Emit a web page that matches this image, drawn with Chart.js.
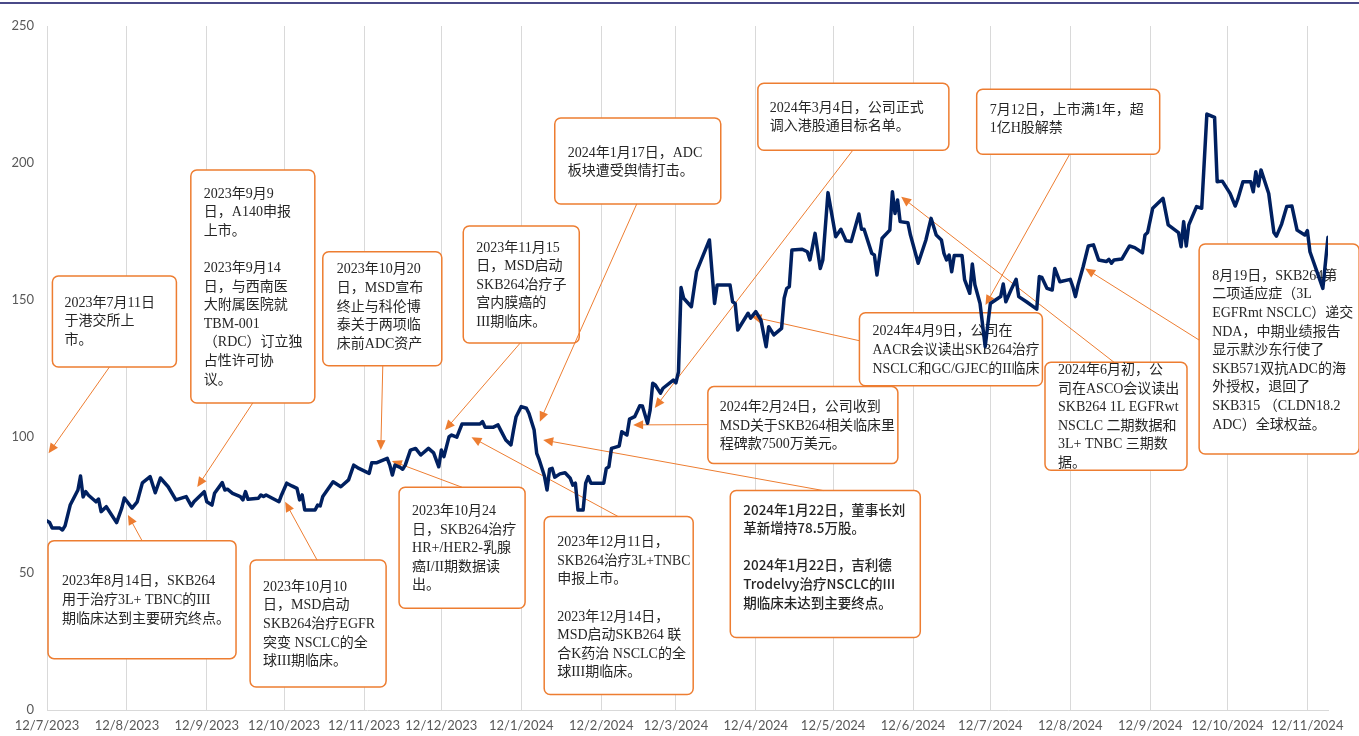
<!DOCTYPE html>
<html>
<head>
<meta charset="utf-8">
<script src="https://cdn.jsdelivr.net/npm/chart.js@4.4.1/dist/chart.umd.min.js"></script>
<style>
  html, body { margin: 0; padding: 0; background: #fff; }
  #wrap { width: 1359px; height: 736px; }
</style>
</head>
<body>
<div id="wrap"><canvas id="priceChart" width="1359" height="736"></canvas></div>
<script>
// trading days counted from 12/7/2023 (day/month/year)
const dayOffsets = [
  0, 1, 2, 5, 6, 7, 9, 12, 13, 14, 15, 16, 19, 20, 21, 23, 27, 29, 30, 33,
  35, 37, 40, 42, 44, 47, 50, 54, 56, 57, 61, 62, 64, 65, 68, 69, 70, 72, 75, 76,
  77, 78, 82, 83, 84, 85, 90, 91, 93, 95, 97, 98, 99, 100, 104, 105, 106, 107, 111, 114,
  117, 119, 121, 125, 126, 128, 132, 133, 134, 135, 137, 138, 139, 141, 143, 145, 148, 150, 152, 153,
  154, 156, 157, 159, 161, 163, 168, 169, 170, 173, 175, 176, 178, 180, 181, 182, 184, 186, 187, 189,
  190, 191, 193, 194, 195, 196, 197, 199, 201, 203, 204, 205, 206, 208, 209, 210, 211, 216, 217, 218,
  219, 221, 222, 223, 225, 226, 228, 230, 231, 233, 234, 235, 236, 238, 239, 243, 244, 245, 246, 247,
  250, 252, 257, 259, 260, 265, 266, 267, 268, 272, 273, 275, 277, 279, 280, 282, 285, 286, 287, 288,
  289, 293, 295, 296, 298, 300, 301, 303, 306, 308, 310, 312, 315, 316, 317, 320, 321, 322, 324, 327,
  328, 329, 330, 331, 334, 335, 338, 341, 343, 345, 347, 348, 349, 350, 351, 352, 355, 356, 358, 359,
  360, 362, 364, 366, 369, 370, 371, 372, 374, 376, 377, 380, 384, 385, 386, 388, 390, 391, 393, 397,
  398, 399, 400, 402, 404, 406, 408, 411, 412, 413, 414, 417, 420, 422, 425, 426, 427, 429, 431, 433,
  435, 439, 440, 441, 442, 443, 446, 448, 450, 453, 454, 456, 459, 461, 462, 464, 467, 468, 469, 470,
  471, 474, 476, 477, 479, 481, 483, 485, 488, 489, 490, 495, 497
];

const closePrices = [
  69.1, 68.5, 66.5, 66.5, 65.8, 67.3, 74.9, 80.4, 85.5, 77.9, 79.8, 78.6, 76.1, 77.1, 72.5, 74.3, 68.5, 73.8, 77.5, 73.8,
  76.1, 83.0, 85.3, 79.4, 84.8, 81.6, 76.8, 78.0, 74.6, 76.1, 79.8, 76.1, 74.9, 79.2, 83.1, 80.4, 80.7, 79.2, 78.0, 76.8,
  79.8, 77.0, 77.4, 78.6, 78.0, 78.6, 76.1, 78.6, 82.9, 81.9, 81.0, 76.8, 78.6, 73.1, 73.1, 74.9, 74.6, 78.0, 83.4, 81.6,
  84.1, 89.5, 88.3, 86.5, 90.4, 90.4, 92.0, 89.5, 85.9, 89.5, 88.7, 88.0, 89.5, 95.0, 95.6, 93.2, 95.6, 94.0, 88.9, 95.0,
  92.6, 99.9, 100.5, 99.7, 104.5, 104.5, 104.5, 105.4, 103.3, 103.3, 104.2, 102.3, 98.7, 96.9, 102.3, 107.2, 110.9, 110.3, 108.4, 102.3,
  93.8, 91.4, 85.5, 80.4, 88.0, 88.3, 85.1, 86.3, 86.7, 84.7, 82.2, 82.9, 73.1, 73.1, 82.9, 85.3, 82.9, 82.9, 88.3, 88.9,
  95.6, 96.2, 96.5, 101.7, 100.5, 106.3, 107.2, 111.2, 111.1, 104.8, 109.6, 119.4, 118.8, 115.8, 117.6, 120.6, 119.6, 123.6, 154.4, 150.5,
  147.4, 160.2, 171.8, 148.6, 155.3, 155.3, 149.2, 148.6, 138.9, 145.0, 143.2, 145.6, 142.5, 132.8, 140.1, 137.1, 139.5, 150.5, 154.1, 154.7,
  168.1, 168.4, 167.5, 164.5, 174.2, 161.4, 164.5, 189.1, 173.0, 175.7, 171.5, 171.2, 181.3, 175.7, 175.7, 166.9, 166.3, 159.0, 172.4, 175.4,
  189.4, 181.5, 186.4, 178.5, 178.1, 173.6, 163.3, 171.8, 179.7, 173.6, 171.8, 166.9, 164.5, 166.3, 160.2, 166.1, 166.1, 157.3, 152.3, 163.0,
  155.4, 148.6, 132.8, 148.6, 150.5, 151.1, 155.7, 149.2, 153.5, 157.4, 151.1, 149.2, 146.5, 158.4, 158.1, 154.1, 153.5, 161.4, 156.5, 157.4,
  154.7, 151.1, 155.3, 162.0, 169.6, 170.0, 164.5, 163.9, 164.7, 163.3, 164.5, 164.8, 169.6, 169.0, 167.1, 173.6, 174.5, 183.4, 185.2, 187.0,
  177.3, 174.5, 169.3, 178.5, 169.6, 177.3, 184.0, 183.4, 217.8, 216.6, 193.1, 193.3, 188.8, 184.2, 186.7, 193.1, 193.1, 189.4, 196.7, 191.5,
  197.4, 188.8, 174.5, 173.2, 177.6, 184.0, 184.2, 175.4, 173.6, 175.2, 167.5, 154.1, 172.8
];

const tickLabels = [
  '12/7/2023', '12/8/2023', '12/9/2023', '12/10/2023', '12/11/2023', '12/12/2023',
  '12/1/2024', '12/2/2024', '12/3/2024', '12/4/2024', '12/5/2024', '12/6/2024',
  '12/7/2024', '12/8/2024', '12/9/2024', '12/10/2024', '12/11/2024'
];

const yTicks = [0, 50, 100, 150, 200, 250];

// call-out boxes: top-left corner and arrow tip in chart units (day, price)
const events = [
  { d: 2.1, v: 158.6, w: 124, h: 91, tx: 12, ty: 27, from: [57, 91], to: [0.6, 93.8],
    lines: ['2023年7月11日', '于港交所上', '市。'] },
  { d: 55.8, v: 197.4, w: 124, h: 233, tx: 13, ty: 24, from: [62, 233], to: [58.3, 81.5],
    lines: ['2023年9月9', '日，A140申报', '上市。', '', '2023年9月14', '日，与西南医', '大附属医院就', 'TBM-001', '（RDC）订立独', '占性许可协', '议。'] },
  { d: 107.0, v: 167.5, w: 119, h: 114, tx: 14, ty: 18, from: [60, 114], to: [129.5, 95.0],
    lines: ['2023年10月20', '日，MSD宣布', '终止与科伦博', '泰关于两项临', '床前ADC资产'] },
  { d: 0.4, v: 61.9, w: 188, h: 118, tx: 14, ty: 41, from: [94, 0], to: [31.4, 71.3],
    lines: ['2023年8月14日，SKB264', '用于治疗3L+ TBNC的III', '期临床达到主要研究终点。'] },
  { d: 78.8, v: 54.8, w: 136, h: 127, tx: 13, ty: 27, from: [67, 0], to: [92.4, 76.1],
    lines: ['2023年10月10', '日，MSD启动', 'SKB264治疗EGFR', '突变 NSCLC的全', '球III期临床。'] },
  { d: 136.6, v: 81.4, w: 126, h: 121, tx: 13, ty: 24, from: [63, 0], to: [133.8, 91.0],
    lines: ['2023年10月24', '日，SKB264治疗', 'HR+/HER2-乳腺', '癌I/II期数据读', '出。'] },
  { d: 161.5, v: 176.9, w: 116, h: 117, tx: 13, ty: 22, from: [57, 117], to: [154.4, 102.3],
    lines: ['2023年11月15', '日，MSD启动', 'SKB264冶疗子', '宫内膜癌的', 'III期临床。'] },
  { d: 197.0, v: 216.4, w: 166, h: 86, tx: 13, ty: 35, from: [82, 86], to: [191.2, 105.4],
    lines: ['2024年1月17日，ADC', '板块遭受舆情打击。'] },
  { d: 275.8, v: 229.1, w: 191, h: 67, tx: 12, ty: 25, from: [95, 67], to: [235.8, 110.4],
    lines: ['2024年3月4日，公司正式', '调入港股通目标名单。'] },
  { d: 360.7, v: 226.9, w: 183, h: 65, tx: 13, ty: 21, from: [93, 65], to: [364.1, 148.0],
    lines: ['7月12日，上市满1年，超', '1亿H股解禁'] },
  { d: 315.2, v: 145.2, w: 183, h: 73, tx: 13, ty: 19, from: [0, 28], to: [273.3, 143.8],
    lines: ['2024年4月9日，公司在', 'AACR会议读出SKB264治疗', 'NSCLC和GC/GJEC的II临床'] },
  { d: 256.4, v: 118.2, w: 190, h: 77, tx: 12, ty: 21, from: [0, 38], to: [227.4, 104.2],
    lines: ['2024年2月24日，公司收到', 'MSD关于SKB264相关临床里', '程碑款7500万美元。'] },
  { d: 265.1, v: 80.2, w: 190, h: 147, tx: 13, ty: 19, from: [93, 0], to: [192.5, 98.7], sans: true,
    lines: ['2024年1月22日，董事长刘', '革新增持78.5万股。', '', '2024年1月22日，吉利德', 'Trodelvy治疗NSCLC的III', '期临床未达到主要终点。'] },
  { d: 192.9, v: 70.7, w: 149, h: 178, tx: 13, ty: 26, from: [74, 0], to: [164.7, 99.7],
    lines: ['2023年12月11日，', 'SKB264治疗3L+TNBC', '申报上市。', '', '2023年12月14日，', 'MSD启动SKB264 联', '合K药治 NSCLC的全', '球III期临床。'] },
  { d: 387.2, v: 127.1, w: 142, h: 108, tx: 13, ty: 8, from: [69, 0], to: [331.4, 187.6],
    lines: ['2024年6月初，公', '司在ASCO会议读出', 'SKB264 1L EGFRwt', 'NSCLC 二期数据和', '3L+ TNBC 三期数', '据。'] },
  { d: 447.0, v: 170.3, w: 160, h: 210, tx: 13, ty: 32, from: [0, 96], to: [402.8, 161.4],
    lines: ['8月19日，SKB264第', '二项适应症（3L', 'EGFRmt NSCLC）递交', 'NDA，中期业绩报告', '显示默沙东行使了', 'SKB571双抗ADC的海', '外授权，退回了', 'SKB315 （CLDN18.2', 'ADC）全球权益。'] }
];

const ORANGE = '#ED7D31';
const LINE_GAP = 18.6;

function labelToDay(label) {
  const [d, m, y] = label.split('/').map(Number);
  return Math.round((Date.UTC(y, m - 1, d) - Date.UTC(2023, 6, 12)) / 86400000);
}
const tickDays = tickLabels.map(labelToDay);

function roundRect(ctx, x, y, w, h, r) {
  ctx.beginPath();
  ctx.moveTo(x + r, y);
  ctx.arcTo(x + w, y, x + w, y + h, r);
  ctx.arcTo(x + w, y + h, x, y + h, r);
  ctx.arcTo(x, y + h, x, y, r);
  ctx.arcTo(x, y, x + w, y, r);
  ctx.closePath();
}

function drawArrow(ctx, x1, y1, x2, y2) {
  const ang = Math.atan2(y2 - y1, x2 - x1);
  const len = 10, half = 4.5;
  ctx.strokeStyle = ORANGE;
  ctx.lineWidth = 1;
  ctx.beginPath();
  ctx.moveTo(x1, y1);
  ctx.lineTo(x2 - Math.cos(ang) * len * 0.8, y2 - Math.sin(ang) * len * 0.8);
  ctx.stroke();
  ctx.fillStyle = ORANGE;
  ctx.beginPath();
  ctx.moveTo(x2, y2);
  ctx.lineTo(x2 - Math.cos(ang) * len - Math.sin(ang) * half, y2 - Math.sin(ang) * len + Math.cos(ang) * half);
  ctx.lineTo(x2 - Math.cos(ang) * len + Math.sin(ang) * half, y2 - Math.sin(ang) * len - Math.cos(ang) * half);
  ctx.closePath();
  ctx.fill();
}

// boxes and arrows go between the grid and the price line
const calloutPlugin = {
  id: 'callouts',
  beforeDatasetsDraw(chart) {
    const ctx = chart.ctx;
    const xs = chart.scales.x, ys = chart.scales.y;
    ctx.save();
    events.forEach(ev => {
      const bx = xs.getPixelForValue(ev.d), by = ys.getPixelForValue(ev.v);
      roundRect(ctx, bx, by, ev.w, ev.h, 6);
      ctx.fillStyle = '#fff';
      ctx.fill();
      ctx.strokeStyle = ORANGE;
      ctx.lineWidth = 1.5;
      ctx.stroke();
      ctx.fillStyle = '#262626';
      ctx.textBaseline = 'middle';
      ctx.textAlign = 'left';
      ctx.font = ev.sans ? '500 13.5px "Noto Sans CJK SC", sans-serif'
                         : '14px "Liberation Serif", "Noto Sans CJK SC", serif';
      ev.lines.forEach((t, i) => {
        if (t) ctx.fillText(t, bx + ev.tx, by + ev.ty + i * LINE_GAP, ev.w - ev.tx - 3);
      });
    });
    events.forEach(ev => {
      const bx = xs.getPixelForValue(ev.d), by = ys.getPixelForValue(ev.v);
      drawArrow(ctx, bx + ev.from[0], by + ev.from[1], xs.getPixelForValue(ev.to[0]), ys.getPixelForValue(ev.to[1]));
    });
    ctx.restore();
  },
  afterDraw(chart) {
    const ctx = chart.ctx;
    ctx.save();
    ctx.fillStyle = '#4a4a88';
    ctx.fillRect(0, 2, chart.width, 2);
    ctx.restore();
  }
};

const ctx = document.getElementById('priceChart').getContext('2d');
new Chart(ctx, {
  type: 'line',
  data: {
    datasets: [{
      label: '股价',
      data: dayOffsets.map((d, i) => ({ x: d, y: closePrices[i] })),
      borderColor: '#002060',
      borderWidth: 3.5,
      borderJoinStyle: 'round',
      borderCapStyle: 'round',
      pointRadius: 0,
      tension: 0,
      fill: false
    }]
  },
  options: {
    responsive: false,
    animation: false,
    events: [],
    layout: { padding: { top: 26, right: 31, bottom: 0, left: 0 } },
    plugins: { legend: { display: false }, tooltip: { enabled: false } },
    scales: {
      x: {
        type: 'linear',
        min: 0,
        max: 497,
        afterBuildTicks: scale => { scale.ticks = tickDays.map(v => ({ value: v })); },
        afterFit: scale => { scale.height = 26; },
        grid: { color: '#d9d9d9', lineWidth: 1, drawTicks: false },
        border: { color: '#d9d9d9' },
        ticks: {
          autoSkip: false,
          maxRotation: 0,
          padding: 8,
          color: '#595959',
          font: { family: 'Lato', size: 13 },
          callback: v => tickLabels[tickDays.indexOf(v)]
        }
      },
      y: {
        min: 0,
        max: 250,
        afterBuildTicks: scale => { scale.ticks = yTicks.map(v => ({ value: v })); },
        afterFit: scale => { scale.width = 47; },
        grid: { display: false, drawTicks: false },
        border: { display: false },
        ticks: {
          padding: 13,
          color: '#595959',
          font: { family: 'Lato', size: 13 }
        }
      }
    }
  },
  plugins: [calloutPlugin]
});
</script>
</body>
</html>
